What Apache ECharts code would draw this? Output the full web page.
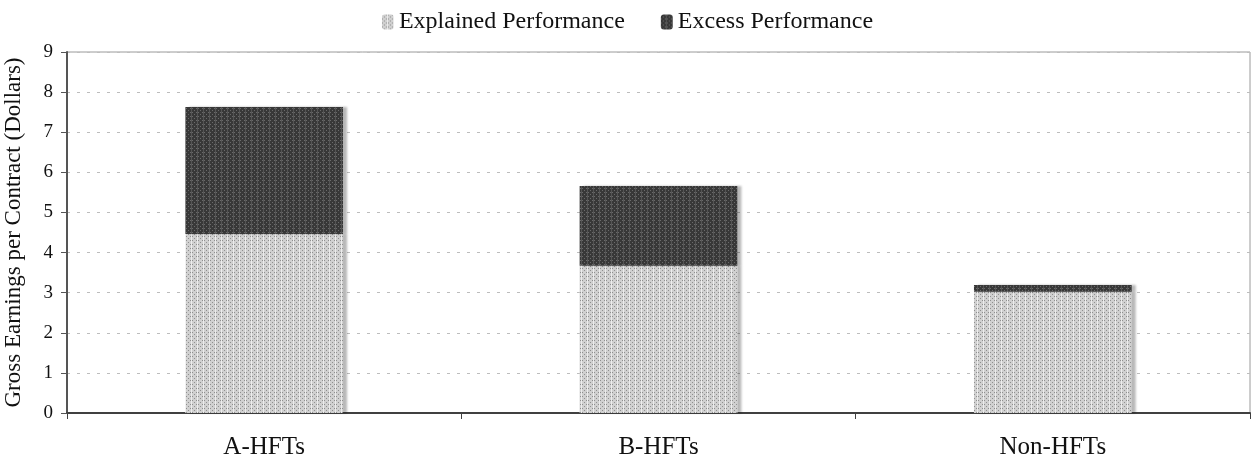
<!DOCTYPE html>
<html>
<head>
<meta charset="utf-8">
<script src="https://cdn.jsdelivr.net/npm/echarts@6/dist/echarts.min.js"></script>
<style>
  html, body { margin: 0; padding: 0; background: #fff; }
  #main { width: 1255px; height: 464px; }
</style>
</head>
<body>
<div id="main"></div>
<script>
// chart values
let categories = ['A-HFTs', 'B-HFTs', 'Non-HFTs'];
let explained = [4.46, 3.67, 3.02];
let excess = [3.17, 1.99, 0.17];
let seriesNames = ['Explained Performance', 'Excess Performance'];

// dotted fill like the printed chart
function dotPattern(base, dot, line){
    let c = document.createElement('canvas');
    c.width = 6;
    c.height = 4;
    let ctx = c.getContext('2d');
    ctx.fillStyle = base;
    ctx.fillRect(0, 0, 6, 4);
    ctx.fillStyle = dot;
    ctx.fillRect(0, 0, 1, 1);
    ctx.fillRect(2, 2, 1, 1);
    ctx.fillRect(4, 0, 1, 1);
    ctx.fillStyle = line;
    ctx.fillRect(5, 0, 1, 4);
    return {image: c, repeat: 'repeat'};
}

let font = '"Liberation Serif", "DejaVu Serif", serif';
let lightFill = dotPattern('#d0d0d0', '#8f8f8f', '#ececec');
let darkFill = dotPattern('#383838', '#6a6a6a', '#555555');

function barSeries(name, data, fill){
    return {
        type: 'bar',
        name: name,
        stack: 'total',
        barWidth: '40%',
        data: data,
        itemStyle: {
            color: fill,
            shadowColor: 'rgba(0,0,0,0.28)',
            shadowOffsetX: 4,
            shadowOffsetY: 0,
            shadowBlur: 2
        }
    };
}

let option = {
    animation: false,
    textStyle: {fontFamily: font, color: '#111'},
    legend: {
        top: 5,
        left: 'center',
        itemWidth: 12,
        itemHeight: 15,
        itemGap: 36,
        textStyle: {fontFamily: font, fontSize: 24, color: '#111'},
        data: seriesNames
    },
    grid: {
        left: 67, right: 5, top: 52, bottom: 51,
        outerBoundsMode: 'none',
        containLabel: false,
        show: true,
        borderColor: '#9a9a9a',
        borderWidth: 1
    },
    xAxis: {
        type: 'category',
        data: categories,
        axisLine: {lineStyle: {color: '#404040', width: 2}},
        axisTick: {show: true, length: 6, lineStyle: {color: '#404040'}},
        axisLabel: {fontFamily: font, fontSize: 25, color: '#111', margin: 22}
    },
    yAxis: {
        type: 'value',
        min: 0,
        max: 9,
        interval: 1,
        name: 'Gross Earnings per Contract (Dollars)',
        nameLocation: 'middle',
        nameGap: 42,
        nameTextStyle: {fontFamily: font, fontSize: 23, color: '#111'},
        axisLine: {show: true, lineStyle: {color: '#555', width: 2}},
        axisTick: {show: true, length: 6, lineStyle: {color: '#555'}},
        axisLabel: {fontFamily: font, fontSize: 19, color: '#111', margin: 14},
        splitLine: {lineStyle: {color: '#bdbdbd', type: [3, 7]}}
    },
    series: [
        barSeries(seriesNames[0], explained, lightFill),
        barSeries(seriesNames[1], excess, darkFill)
    ]
};

let chart = echarts.init(document.getElementById('main'));
chart.setOption(option);
</script>
</body>
</html>
